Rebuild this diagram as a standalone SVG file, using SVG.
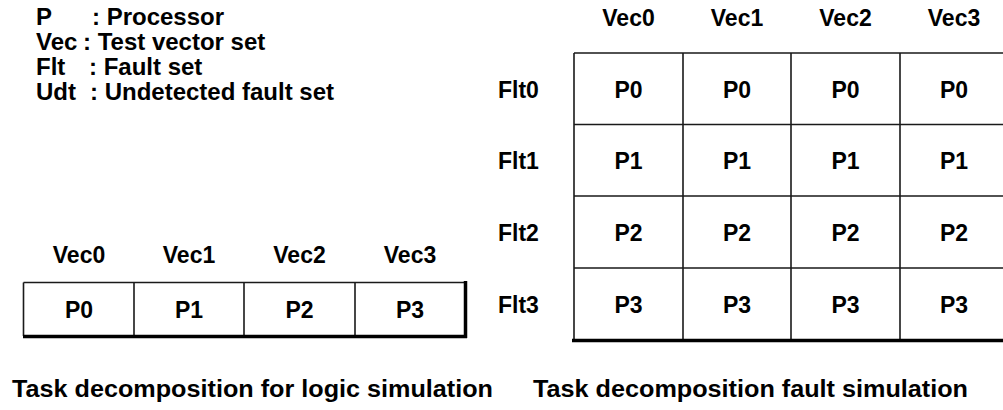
<svg xmlns="http://www.w3.org/2000/svg" width="1003" height="410" viewBox="0 0 1003 410">
  <style>
    text { font-family: "Liberation Sans", Arial, sans-serif; font-weight: bold; font-size: 23px; fill: #000; }
    .legend text { font-size: 24px; }
    .c { text-anchor: middle; }
    .grid { stroke: #1a1a1a; stroke-width: 1.6; fill: none; }
    .heavy { stroke: #000; stroke-width: 3.5; fill: none; }
  </style>

  <!-- legend -->
  <g id="legend" class="legend">
    <text x="36" y="25">P</text><text x="92" y="25">: Processor</text>
    <text x="36" y="50">Vec</text><text x="83" y="50">: Test vector set</text>
    <text x="36" y="75">Flt</text><text x="89" y="75">: Fault set</text>
    <text x="36" y="100">Udt</text><text x="90" y="100">: Undetected fault set</text>
  </g>

  <!-- logic simulation: one processor per vector set -->
  <g id="logic-table">
    <g id="logic-headers">
      <text class="c" x="79" y="263">Vec0</text>
      <text class="c" x="189" y="263">Vec1</text>
      <text class="c" x="299.5" y="263">Vec2</text>
      <text class="c" x="410" y="263">Vec3</text>
    </g>
    <path class="grid" d="M23.5 282.5 H465 M23.5 282.5 V336 M134 282.5 V336 M244 282.5 V336 M355 282.5 V336"/>
    <path class="heavy" d="M23 336.5 H467 M465.5 281 V338"/>
    <g id="logic-P0"><text class="c" x="79" y="318">P0</text></g>
    <g id="logic-P1"><text class="c" x="189" y="318">P1</text></g>
    <g id="logic-P2"><text class="c" x="299.5" y="318">P2</text></g>
    <g id="logic-P3"><text class="c" x="410" y="318">P3</text></g>
  </g>

  <!-- fault simulation: one processor per fault set, across all vectors -->
  <g id="fault-table">
    <g id="fault-headers">
      <text class="c" x="628.5" y="26">Vec0</text>
      <text class="c" x="737" y="26">Vec1</text>
      <text class="c" x="845.5" y="26">Vec2</text>
      <text class="c" x="954" y="26">Vec3</text>
    </g>
    <g id="fault-rows">
      <text x="498" y="98">Flt0</text>
      <text x="498" y="169">Flt1</text>
      <text x="498" y="241">Flt2</text>
      <text x="498" y="313">Flt3</text>
    </g>
    <path class="grid" d="M574 53 H1003 M574 124.5 H1003 M574 196 H1003 M574 268 H1003 M574 53 V340 M683 53 V340 M791 53 V340 M900 53 V340"/>
    <path class="heavy" d="M572 340.5 H1003"/>
    <g id="fault-row0">
      <text class="c" x="628.5" y="98">P0</text><text class="c" x="737" y="98">P0</text>
      <text class="c" x="845.5" y="98">P0</text><text class="c" x="954" y="98">P0</text>
    </g>
    <g id="fault-row1">
      <text class="c" x="628.5" y="169">P1</text><text class="c" x="737" y="169">P1</text>
      <text class="c" x="845.5" y="169">P1</text><text class="c" x="954" y="169">P1</text>
    </g>
    <g id="fault-row2">
      <text class="c" x="628.5" y="241">P2</text><text class="c" x="737" y="241">P2</text>
      <text class="c" x="845.5" y="241">P2</text><text class="c" x="954" y="241">P2</text>
    </g>
    <g id="fault-row3">
      <text class="c" x="628.5" y="313">P3</text><text class="c" x="737" y="313">P3</text>
      <text class="c" x="845.5" y="313">P3</text><text class="c" x="954" y="313">P3</text>
    </g>
  </g>

  <!-- captions -->
  <g id="captions">
    <text x="12" y="397" textLength="481" lengthAdjust="spacingAndGlyphs">Task decomposition for logic simulation</text>
    <text x="533" y="397" textLength="435" lengthAdjust="spacingAndGlyphs">Task decomposition fault simulation</text>
  </g>
</svg>
